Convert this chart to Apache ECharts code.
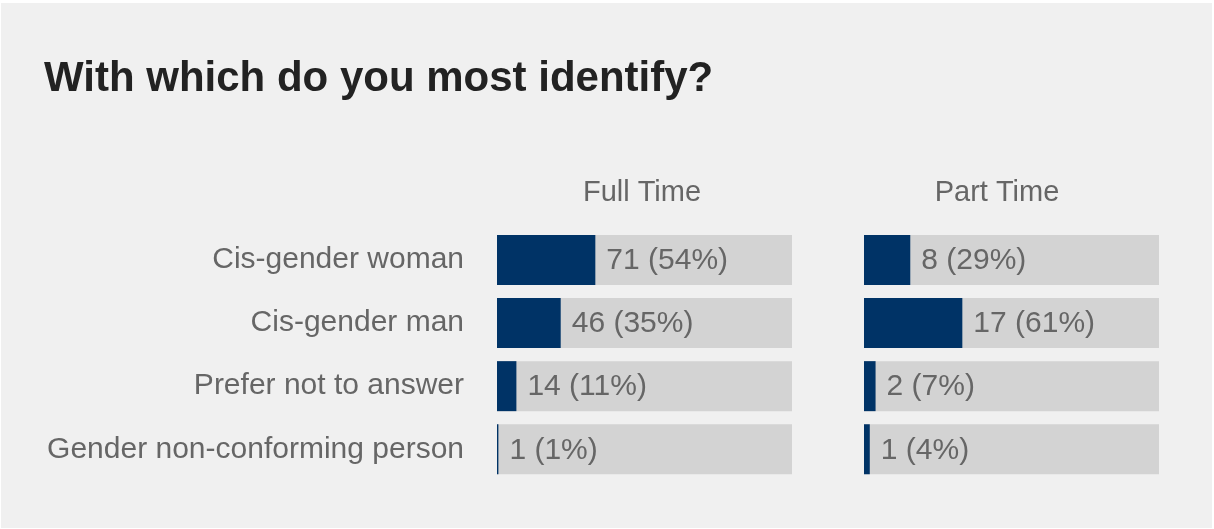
<!DOCTYPE html>
<html>
<head>
<meta charset="utf-8">
<script src="https://cdn.jsdelivr.net/npm/echarts@6/dist/echarts.min.js"></script>
<style>
  html, body { margin: 0; padding: 0; background: #ffffff; }
  #chart { position: absolute; left: 1px; top: 3px; width: 1211px; height: 525px; }
</style>
</head>
<body>
<div id="chart"></div>
<script>
// ---- data ----
const categories = ['Cis-gender woman', 'Cis-gender man', 'Prefer not to answer', 'Gender non-conforming person'];
const fullTimeCounts = [71, 46, 14, 1];
const fullTimePercents = [54, 35, 11, 1];
const partTimeCounts = [8, 17, 2, 1];
const partTimePercents = [29, 61, 7, 4];
const panelTitles = ['Full Time', 'Part Time'];
const fullTimeAxisMax = 213;
const partTimeAxisMax = 51;

const FONT = '"Liberation Sans", Arial, Helvetica, sans-serif';
const NAVY = '#003366';
const TRACK = '#d3d3d3';
const TEXT = '#666666';

const chart = echarts.init(document.getElementById('chart'));

function barSeries(idx, counts, percents) {
  return {
    type: 'bar',
    xAxisIndex: idx,
    yAxisIndex: idx,
    data: counts,
    barWidth: 50,
    itemStyle: { color: NAVY },
    showBackground: true,
    backgroundStyle: { color: TRACK },
    silent: true,
    label: {
      show: true,
      position: 'right',
      distance: 11,
      offset: [0, 1],
      color: TEXT,
      fontFamily: FONT,
      fontSize: 30,
      formatter: p => counts[p.dataIndex] + ' (' + percents[p.dataIndex] + '%)'
    }
  };
}

const option = {
  backgroundColor: '#f0f0f0',
  animation: false,
  title: {
    text: 'With which do you most identify?',
    left: 43,
    top: 55,
    padding: 0,
    textStyle: { fontFamily: FONT, fontSize: 42, fontWeight: 'bold', color: '#222222' }
  },
  graphic: [
    { type: 'text', x: 641, y: 190, style: { text: panelTitles[0], font: '29px ' + FONT, fill: TEXT, align: 'center', verticalAlign: 'middle' } },
    { type: 'text', x: 996, y: 190, style: { text: panelTitles[1], font: '29px ' + FONT, fill: TEXT, align: 'center', verticalAlign: 'middle' } }
  ],
  grid: [
    { left: 496, top: 225.4, width: 295, height: 252.4 },
    { left: 863, top: 225.4, width: 295, height: 252.4 }
  ],
  xAxis: [
    { gridIndex: 0, type: 'value', min: 0, max: fullTimeAxisMax, show: false },
    { gridIndex: 1, type: 'value', min: 0, max: partTimeAxisMax, show: false }
  ],
  yAxis: [
    {
      gridIndex: 0, type: 'category', data: categories, inverse: true,
      axisLine: { show: false }, axisTick: { show: false }, splitLine: { show: false },
      axisLabel: { margin: 33, color: TEXT, fontFamily: FONT, fontSize: 30, padding: [2, 0, 0, 0] }
    },
    {
      gridIndex: 1, type: 'category', data: categories, inverse: true,
      axisLine: { show: false }, axisTick: { show: false }, splitLine: { show: false },
      axisLabel: { show: false }
    }
  ],
  series: [
    barSeries(0, fullTimeCounts, fullTimePercents),
    barSeries(1, partTimeCounts, partTimePercents)
  ]
};

chart.setOption(option);
</script>
</body>
</html>
